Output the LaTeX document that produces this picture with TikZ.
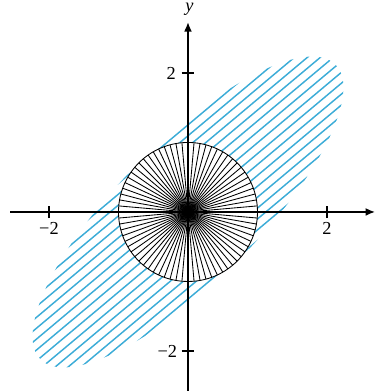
\documentclass[tikz,border=0pt]{standalone}
\usepackage{fontspec}
\setmainfont{Liberation Serif}
\usetikzlibrary{arrows.meta}
\definecolor{hatchcol}{RGB}{60,172,215}
\begin{document}
\begin{tikzpicture}[x=1cm,y=1cm,
  axisline/.style={line width=0.55pt, -{Latex[length=3.8pt,width=3.2pt]}},
  tickline/.style={line width=0.5pt},
  hatchline/.style={hatchcol, line width=0.6pt},
  spoke/.style={line width=0.35pt},
  lbl/.style={font=\fontsize{7.5}{9}\selectfont, inner sep=0pt}]
\useasboundingbox (-2.705,-2.576) rectangle (2.791,3.050);
% hatched region
\begin{scope}
  \clip[rotate=45] (0,0) ellipse (3 and 1);
  \begin{scope}[rotate=40]
    \foreach \i in {-9,...,9} {
      \draw[hatchline] (-4,\i*0.12) -- (4,\i*0.12);
    }
  \end{scope}
\end{scope}
% disk with spokes
\draw[spoke, fill=white] (0,0) circle (1);
\foreach \a in {0,5,...,355} {
  \draw[spoke] (0,0) -- (\a:1);
}
% axes
\coordinate (xs) at (-2.56,0);
\coordinate (xe) at (2.69,0);
\coordinate (ys) at (0,-2.6);
\coordinate (ye) at (0,2.73);
\draw[axisline] (xs) -- (xe);
\draw[axisline] (ys) -- (ye);
% ticks
\foreach \t in {-2,2} {
  \draw[tickline] (\t,-0.09) -- (\t,0.09);
  \draw[tickline] (-0.09,\t) -- (0.09,\t);
}
% labels
\node[lbl] (ylab) at (0.02,2.91) {\textit{y}};
\node[lbl, anchor=east] (ytwo) at (-0.17,2) {2};
\node[lbl, anchor=east] (ymtwo) at (-0.15,-2) {−2};
\node[lbl, anchor=north] (xmtwo) at (-2.0,-0.14) {−2};
\node[lbl, anchor=north] (xtwo) at (2.0,-0.14) {2};
\end{tikzpicture}
\end{document}
